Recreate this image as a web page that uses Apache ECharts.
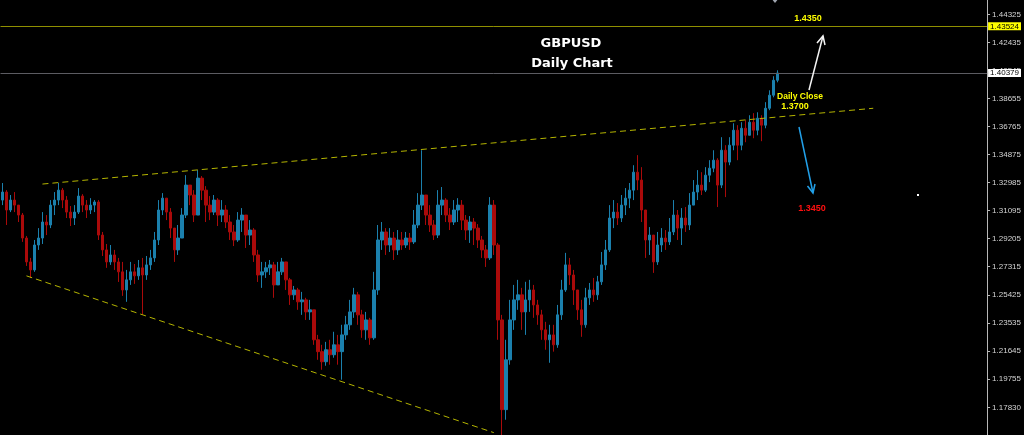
<!DOCTYPE html>
<html>
<head>
<meta charset="utf-8">
<title>GBPUSD Daily Chart</title>
<script src="https://cdn.jsdelivr.net/npm/echarts@6/dist/echarts.min.js"></script>
<style>
  html, body { margin: 0; padding: 0; background: #000; }
  #chart { width: 1024px; height: 435px; }
</style>
</head>
<body>
<div id="chart"></div>
<script>
// GBPUSD daily bars (oldest first)
const openPrices = [
1.3181,1.3235,1.3114,1.3181,1.3147,1.3080,1.2925,1.2764,1.2710,1.2878,
1.2925,1.3033,1.3013,1.3147,1.3181,1.3248,1.3181,1.3100,1.3060,1.3100,
1.3208,1.3147,1.3114,1.3147,1.3168,1.2945,1.2845,1.2764,1.2811,1.2764,
1.2697,1.2575,1.2643,1.2697,1.2670,1.2724,1.2676,1.2744,1.2791,1.2912,
1.3114,1.3194,1.3100,1.2992,1.2845,1.2925,1.3080,1.3282,1.3215,1.3080,
1.3329,1.3248,1.3147,1.3100,1.3181,1.3080,1.3114,1.3033,1.2966,1.2912,
1.3046,1.3080,1.2945,1.2979,1.2811,1.2676,1.2697,1.2724,1.2744,1.2609,
1.2697,1.2764,1.2643,1.2542,1.2575,1.2495,1.2508,1.2427,1.2441,1.2239,
1.2159,1.2091,1.2172,1.2138,1.2205,1.2159,1.2272,1.2340,1.2427,1.2542,
1.2407,1.2306,1.2373,1.2252,1.2575,1.2912,1.2966,1.2878,1.2925,1.2845,
1.2912,1.2878,1.2925,1.2899,1.3013,1.3147,1.3215,1.3080,1.3013,1.2945,
1.3147,1.3181,1.3080,1.3033,1.3114,1.3147,1.3046,1.2979,1.3033,1.2992,
1.2912,1.2845,1.2791,1.3147,1.2878,1.2373,1.1768,1.2104,1.2373,1.2508,
1.2542,1.2427,1.2508,1.2575,1.2474,1.2407,1.2306,1.2239,1.2272,1.2205,
1.2407,1.2575,1.2744,1.2676,1.2575,1.2441,1.2340,1.2522,1.2575,1.2542,
1.2630,1.2744,1.2845,1.3060,1.3100,1.3060,1.3147,1.3194,1.3248,1.3369,
1.3316,1.3114,1.2912,1.2945,1.2764,1.2878,1.2925,1.2899,1.2966,1.3080,
1.2992,1.3060,1.3013,1.3147,1.3235,1.3282,1.3248,1.3349,1.3396,1.3450,
1.3282,1.3517,1.3437,1.3551,1.3652,1.3551,1.3665,1.3618,1.3706,1.3652,
1.3733,1.3686,1.3800,1.3888,1.3989
];
const closePrices = [
1.3235,1.3114,1.3181,1.3147,1.3080,1.2925,1.2764,1.2710,1.2878,1.2925,
1.3033,1.3013,1.3147,1.3181,1.3248,1.3181,1.3100,1.3060,1.3100,1.3208,
1.3147,1.3114,1.3147,1.3168,1.2945,1.2845,1.2764,1.2811,1.2764,1.2697,
1.2575,1.2643,1.2697,1.2670,1.2724,1.2676,1.2744,1.2791,1.2912,1.3114,
1.3194,1.3100,1.2992,1.2845,1.2925,1.3080,1.3282,1.3215,1.3080,1.3329,
1.3248,1.3147,1.3100,1.3181,1.3080,1.3114,1.3033,1.2966,1.2912,1.3046,
1.3080,1.2945,1.2979,1.2811,1.2676,1.2697,1.2724,1.2744,1.2609,1.2697,
1.2764,1.2643,1.2542,1.2575,1.2495,1.2508,1.2427,1.2441,1.2239,1.2159,
1.2091,1.2172,1.2138,1.2205,1.2159,1.2272,1.2340,1.2427,1.2542,1.2407,
1.2306,1.2373,1.2252,1.2575,1.2912,1.2966,1.2878,1.2925,1.2845,1.2912,
1.2878,1.2925,1.2899,1.3013,1.3147,1.3215,1.3080,1.3013,1.2945,1.3147,
1.3181,1.3080,1.3033,1.3114,1.3147,1.3046,1.2979,1.3033,1.2992,1.2912,
1.2845,1.2791,1.3147,1.2878,1.2373,1.1768,1.2104,1.2373,1.2508,1.2542,
1.2427,1.2508,1.2575,1.2474,1.2407,1.2306,1.2239,1.2272,1.2205,1.2407,
1.2575,1.2744,1.2676,1.2575,1.2441,1.2340,1.2522,1.2575,1.2542,1.2630,
1.2744,1.2845,1.3060,1.3100,1.3060,1.3147,1.3194,1.3248,1.3369,1.3316,
1.3114,1.2912,1.2945,1.2764,1.2878,1.2925,1.2899,1.2966,1.3080,1.2992,
1.3060,1.3013,1.3147,1.3235,1.3282,1.3248,1.3349,1.3396,1.3450,1.3282,
1.3517,1.3437,1.3551,1.3652,1.3551,1.3665,1.3618,1.3706,1.3652,1.3733,
1.3686,1.3800,1.3888,1.3989,1.40379
];
const highPrices = [
1.3296,1.3248,1.3215,1.3235,1.3147,1.3094,1.2939,1.2791,1.2912,1.2992,
1.3100,1.3080,1.3181,1.3235,1.3296,1.3262,1.3208,1.3141,1.3147,1.3262,
1.3221,1.3181,1.3194,1.3181,1.3181,1.2966,1.2885,1.2878,1.2845,1.2791,
1.2764,1.2710,1.2764,1.2750,1.2777,1.2791,1.2804,1.2845,1.2966,1.3181,
1.3228,1.3194,1.3127,1.2992,1.3013,1.3127,1.3349,1.3282,1.3248,1.3383,
1.3343,1.3275,1.3208,1.3215,1.3194,1.3181,1.3147,1.3080,1.3013,1.3100,
1.3127,1.3080,1.3046,1.2992,1.2845,1.2764,1.2764,1.2777,1.2764,1.2764,
1.2791,1.2764,1.2656,1.2602,1.2589,1.2562,1.2522,1.2508,1.2441,1.2272,
1.2205,1.2225,1.2239,1.2293,1.2272,1.2340,1.2400,1.2508,1.2589,1.2562,
1.2441,1.2427,1.2387,1.2697,1.3013,1.3033,1.2992,1.2992,1.2966,1.2979,
1.2966,1.2966,1.2959,1.3114,1.3228,1.3517,1.3215,1.3147,1.3046,1.3248,
1.3269,1.3194,1.3127,1.3181,1.3194,1.3181,1.3080,1.3073,1.3060,1.3019,
1.2939,1.2878,1.3201,1.3181,1.2892,1.2407,1.2239,1.2508,1.2609,1.2643,
1.2589,1.2630,1.2643,1.2609,1.2508,1.2441,1.2360,1.2340,1.2340,1.2474,
1.2643,1.2825,1.2791,1.2710,1.2575,1.2508,1.2589,1.2622,1.2656,1.2670,
1.2831,1.2912,1.3147,1.3181,1.3161,1.3215,1.3262,1.3296,1.3416,1.3484,
1.3403,1.3114,1.2999,1.2945,1.2966,1.2992,1.2979,1.3060,1.3181,1.3114,
1.3127,1.3134,1.3228,1.3316,1.3383,1.3369,1.3403,1.3450,1.3517,1.3463,
1.3605,1.3551,1.3605,1.3699,1.3686,1.3706,1.3719,1.3753,1.3767,1.3773,
1.3753,1.3841,1.3921,1.4016,1.4056
];
const lowPrices = [
1.3147,1.3013,1.3100,1.3100,1.3033,1.2899,1.2737,1.2656,1.2697,1.2845,
1.2885,1.2945,1.2992,1.3080,1.3147,1.3127,1.3060,1.3006,1.3013,1.3087,
1.3100,1.3060,1.3087,1.3100,1.2912,1.2804,1.2724,1.2744,1.2710,1.2629,
1.2535,1.2495,1.2609,1.2616,1.2643,1.2407,1.2643,1.2710,1.2764,1.2878,
1.3080,1.3046,1.2925,1.2764,1.2811,1.2925,1.3060,1.3147,1.3033,1.3080,
1.3181,1.3033,1.3046,1.3080,1.3006,1.3033,1.2992,1.2912,1.2871,1.2899,
1.2966,1.2858,1.2878,1.2764,1.2629,1.2589,1.2656,1.2676,1.2522,1.2609,
1.2676,1.2575,1.2474,1.2508,1.2441,1.2407,1.2373,1.2373,1.2205,1.2104,
1.2037,1.2064,1.2071,1.2118,1.2071,1.1970,1.2239,1.2306,1.2387,1.2340,
1.2252,1.2239,1.2205,1.2239,1.2542,1.2845,1.2811,1.2831,1.2777,1.2811,
1.2845,1.2858,1.2845,1.2885,1.2992,1.3114,1.3013,1.2966,1.2912,1.2925,
1.3080,1.3033,1.2979,1.3013,1.3033,1.2979,1.2912,1.2892,1.2878,1.2858,
1.2791,1.2730,1.2777,1.2811,1.2239,1.1566,1.1700,1.2071,1.2306,1.2441,
1.2306,1.2272,1.2427,1.2387,1.2340,1.2239,1.2172,1.2084,1.2159,1.2185,
1.2373,1.2562,1.2609,1.2474,1.2373,1.2259,1.2320,1.2474,1.2495,1.2508,
1.2609,1.2710,1.2831,1.2992,1.3013,1.3033,1.3080,1.3127,1.3181,1.3248,
1.3033,1.2791,1.2811,1.2690,1.2744,1.2831,1.2845,1.2878,1.2945,1.2912,
1.2878,1.2966,1.2979,1.3147,1.3181,1.3215,1.3235,1.3302,1.3369,1.3134,
1.3262,1.3201,1.3416,1.3517,1.3450,1.3517,1.3571,1.3618,1.3598,1.3618,
1.3578,1.3665,1.3787,1.3874,1.3975
];

// Price scale labels on the right
const priceTicks = [1.44325, 1.42435, 1.40545, 1.38655, 1.36765, 1.34875, 1.32985,
  1.31095, 1.29205, 1.27315, 1.25425, 1.23535, 1.21645, 1.19755, 1.17830];

// Horizontal levels: resistance and current price
const resistanceLevel = 1.43524;
const currentPrice = 1.40379;

// Trendline anchors: [bar index, price]
const upperTrend = [[10, 1.3289], [218, 1.3800]];
const lowerTrend = [[6, 1.2670], [123, 1.1613]];

// Slots on the time axis (bars plus empty space to the right)
const slotCount = 247;
const slots = Array.from({ length: slotCount }, (_, i) => String(i + 1));

const candles = openPrices.map((o, i) => [o, closePrices[i], lowPrices[i], highPrices[i]]);

const UP = '#1b80ad';
const DOWN = '#aa0a0a';
const TREND = '#b4b400';
const AXIS_FONT = '"Liberation Sans", Arial, sans-serif';

const chart = echarts.init(document.getElementById('chart'), null, { renderer: 'canvas' });

function text(x, y, str, font, fill) {
  return {
    type: 'text', x: x, y: y, z: 100,
    style: { text: str, font: font, fill: fill, align: 'center', verticalAlign: 'middle',
             textAlign: 'center', textVerticalAlign: 'middle' }
  };
}
function arrow(pts, barbs, color, w) {
  return [
    { type: 'polyline', z: 100, shape: { points: pts }, style: { stroke: color, lineWidth: w, fill: null } },
    { type: 'polyline', z: 100, shape: { points: barbs }, style: { stroke: color, lineWidth: w, fill: null } }
  ];
}
function levelLabel(value, bg) {
  return {
    show: true, position: 'end', distance: 1, formatter: value.toFixed(5),
    backgroundColor: bg, color: '#000', fontSize: 8, padding: [0, 2, 0, 2],
    lineHeight: 8, fontFamily: AXIS_FONT
  };
}

chart.setOption({
  animation: false,
  backgroundColor: '#000000',
  // half-pixel offset keeps the 1px wicks on whole device pixels
  grid: { left: 0.5, right: 35.5, top: 0, bottom: 0, containLabel: false },
  xAxis: {
    type: 'category', data: slots, boundaryGap: true, show: false
  },
  yAxis: {
    type: 'value', position: 'right', min: 1.1597, max: 1.4530, scale: true,
    splitLine: { show: false },
    axisLine: { show: true, lineStyle: { color: '#b8b8b8', width: 1 } },
    axisTick: { show: true, length: 3, lineStyle: { color: '#b8b8b8' }, customValues: priceTicks },
    axisLabel: {
      show: true, customValues: priceTicks, margin: 5, color: '#d4d4d4',
      fontSize: 8, fontFamily: AXIS_FONT,
      formatter: v => Number(v).toFixed(5)
    }
  },
  series: [{
    type: 'candlestick',
    data: candles,
    barWidth: 3,
    clip: true,
    itemStyle: { color: UP, color0: DOWN, borderColor: UP, borderColor0: DOWN, borderWidth: 1 },
    markLine: {
      silent: true, symbol: ['none', 'none'], animation: false, precision: 5,
      data: [
        [
          { coord: upperTrend[0], lineStyle: { color: TREND, width: 1, type: [6, 4] }, label: { show: false } },
          { coord: upperTrend[1] }
        ],
        [
          { coord: lowerTrend[0], lineStyle: { color: TREND, width: 1, type: [6, 4] }, label: { show: false } },
          { coord: lowerTrend[1] }
        ],
        {
          yAxis: resistanceLevel,
          lineStyle: { color: '#8f8f00', width: 1, type: 'solid' },
          label: levelLabel(resistanceLevel, '#ffff00')
        },
        {
          yAxis: currentPrice,
          lineStyle: { color: '#5c5c62', width: 1, type: 'solid' },
          label: levelLabel(currentPrice, '#ffffff')
        }
      ]
    }
  }],
  graphic: [
    text(571, 44, 'GBPUSD', 'bold 13px "DejaVu Sans"', '#ffffff'),
    text(572, 64, 'Daily Chart', 'bold 13px "DejaVu Sans"', '#ffffff'),
    text(808, 19, '1.4350', 'bold 9px "Liberation Sans"', '#ffff00'),
    text(800, 97, 'Daily Close', 'bold 8.5px "Liberation Sans"', '#ffff00'),
    text(795, 107, '1.3700', 'bold 9px "Liberation Sans"', '#ffff00'),
    text(812, 209, '1.3450', 'bold 9px "Liberation Sans"', '#ff1010'),
    ...arrow([[809, 90], [823, 36]], [[817, 43], [823, 36], [825, 45]], '#f4f4f4', 1.5),
    ...arrow([[799, 127], [813, 193]], [[815, 184], [813, 193], [807.5, 186]], '#22a0e8', 1.5),
    { type: 'rect', z: 100, shape: { x: 917, y: 194, width: 2, height: 2 }, style: { fill: '#ffffff' } },
    { type: 'polygon', z: 100, shape: { points: [[771, -2], [775, -6], [779, -2], [775, 3]] }, style: { fill: '#a0a6b0' } }
  ]
});
</script>
</body>
</html>
